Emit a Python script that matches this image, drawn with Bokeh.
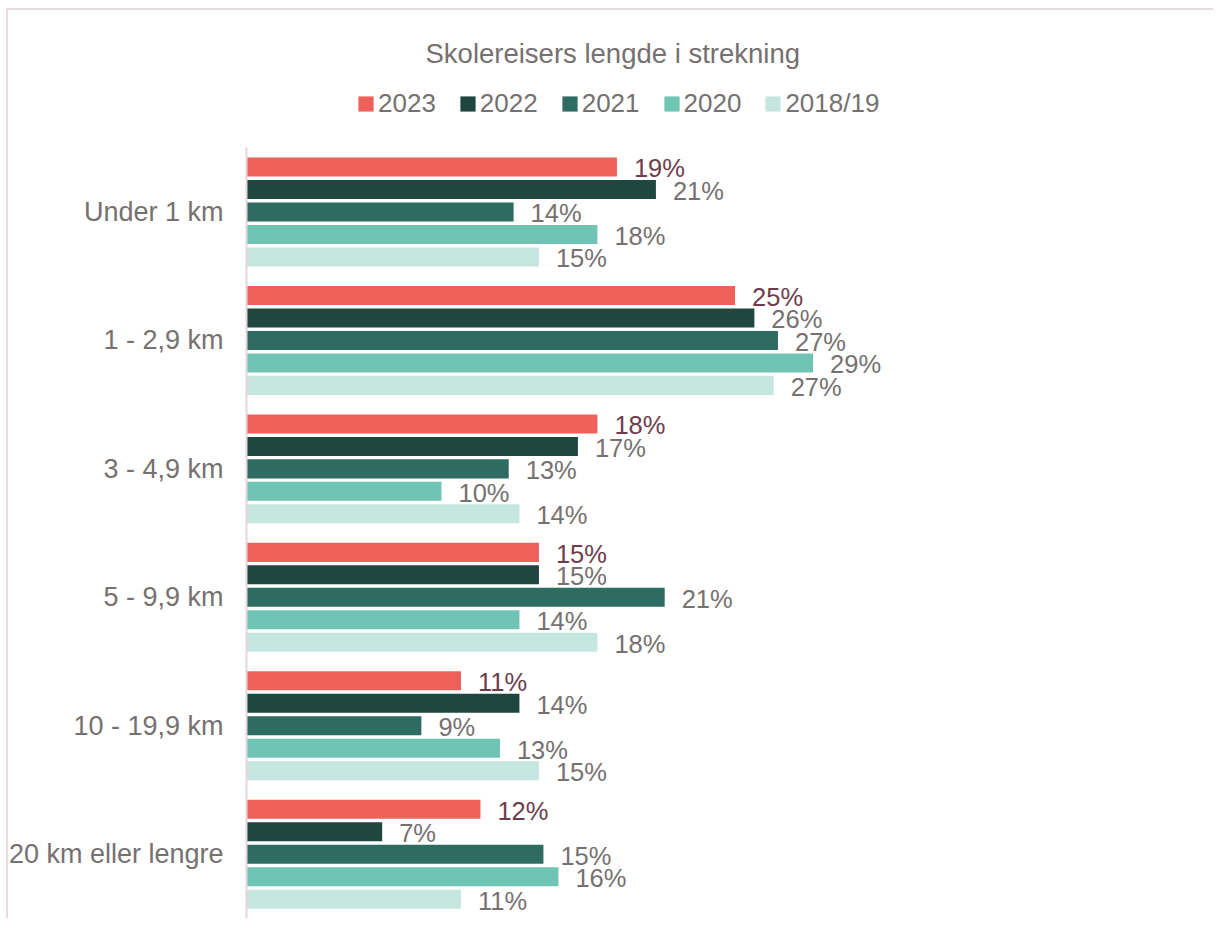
from bokeh.plotting import figure
from bokeh.models import (ColumnDataSource, Range1d, LabelSet, Label, FixedTicker,
                          Legend, LegendItem)
from bokeh.core.properties import value
from bokeh.transform import dodge
from bokeh.embed import file_html
from bokeh.resources import INLINE

# ---- data ----
categories = ["Under 1 km", "1 - 2,9 km", "3 - 4,9 km", "5 - 9,9 km",
              "10 - 19,9 km", "20 km eller lengre"]
series_names = ["2023", "2022", "2021", "2020", "2018/19"]
v2023 = [19.0, 25.06, 18.0, 15.0, 11.0, 12.0]
v2022 = [21.0, 26.05, 17.0, 15.0, 14.0, 6.96]
v2021 = [13.7, 27.26, 13.45, 21.45, 8.97, 15.23]
v2020 = [18.0, 29.06, 10.0, 14.0, 13.0, 16.0]
v2018 = [15.0, 27.04, 14.0, 18.0, 15.0, 11.0]
series_values = [v2023, v2022, v2021, v2020, v2018]
title_text = "Skolereisers lengde i strekning"

# ---- style ----
colors = ["#F0605A", "#1F4740", "#2E6B60", "#70C4B4", "#C6E6E0"]
label_colors = ["#6E3D4D", "#767171", "#767171", "#767171", "#767171"]
offsets = [0.35, 0.175, 0.0, -0.175, -0.35]
FONT = "Liberation Sans"
GRAY = "#767171"
BORDER = "#E9DAE0"

n = len(categories)
positions = [n - 1 - i for i in range(n)]   # first category at the top

p = figure(width=1213, height=918, output_backend="svg", toolbar_location=None,
           y_range=Range1d(-0.5, 6.646), x_range=Range1d(0, 49.6),
           x_axis_location=None,
           min_border_left=246, min_border_right=0, min_border_top=0,
           min_border_bottom=0, frame_height=918, frame_width=967)
p.outline_line_color = None
p.xgrid.visible = False
p.ygrid.visible = False
p.background_fill_alpha = 0
p.border_fill_alpha = 0

p.yaxis.ticker = FixedTicker(ticks=positions)
p.yaxis.major_label_overrides = {pos: cat for pos, cat in zip(positions, categories)}
p.yaxis.bounds = (-0.5, n - 0.5)
p.yaxis.axis_line_color = "#E6D5DC"
p.yaxis.axis_line_width = 2
p.yaxis.major_tick_line_color = None
p.yaxis.minor_tick_line_color = None
p.yaxis.major_tick_in = 0
p.yaxis.major_tick_out = 0
p.yaxis.major_label_standoff = 23
p.yaxis.major_label_text_font = FONT
p.yaxis.major_label_text_font_size = "27px"
p.yaxis.major_label_text_color = GRAY

items = []
for name, vals, col, lcol, off in zip(series_names, series_values, colors,
                                       label_colors, offsets):
    src = ColumnDataSource(dict(pos=positions, val=vals,
                                txt=[f"{round(v)}%" for v in vals]))
    r = p.hbar(y=dodge("pos", off), right="val", left=0,
               height=0.148, source=src, fill_color=col, line_color=None)
    items.append(LegendItem(label=name, renderers=[r]))
    labels = LabelSet(x="val", y=dodge("pos", off), text="txt",
                      source=src, x_offset=17, y_offset=-1.5,
                      text_baseline="middle", text_align="left",
                      text_font=value(FONT), text_font_size=value("25.5px"),
                      text_color=lcol)
    p.add_layout(labels)

legend = Legend(items=items, orientation="horizontal", location=(110, 799),
                glyph_width=19, glyph_height=19, label_standoff=3, spacing=22,
                padding=0, margin=0, border_line_color=None,
                background_fill_alpha=0,
                label_text_font=FONT, label_text_font_size="26px",
                label_text_color=GRAY)
p.add_layout(legend, "center")

title = Label(x=179, y=865, x_units="screen", y_units="screen", text=title_text,
              text_align="left", text_baseline="alphabetic",
              text_font=FONT, text_font_size="27.5px", text_color=GRAY)
p.add_layout(title)

p.styles = {
    "background": (f"linear-gradient({BORDER},{BORDER}) 6px 8px / 2px 100% no-repeat, "
                   f"linear-gradient({BORDER},{BORDER}) 6px 8px / 100% 2px no-repeat, white")
}

open("out.html", "w").write(file_html(p, INLINE))
